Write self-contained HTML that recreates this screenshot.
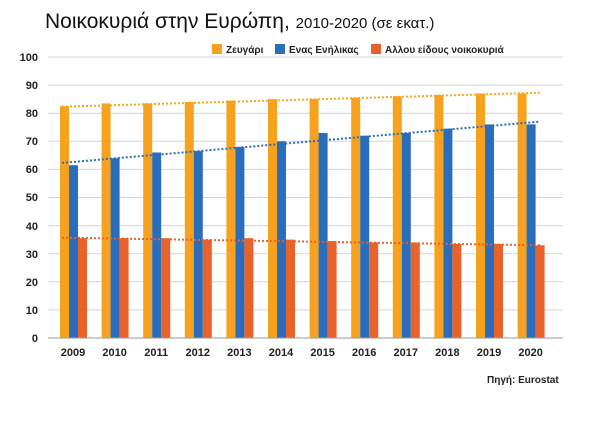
<!DOCTYPE html>
<html><head><meta charset="utf-8"><style>body{margin:0;background:#fff;}</style></head><body>
<svg width="600" height="416" xmlns="http://www.w3.org/2000/svg" font-family="Liberation Sans, sans-serif">
<text x="45" y="28" font-size="21" fill="#111">Νοικοκυριά στην Ευρώπη, <tspan font-size="15">2010-2020 (σε εκατ.)</tspan></text>
<rect x="212" y="44" width="10" height="10" fill="#f6a21e"/><text x="226" y="53" font-size="10" font-weight="bold" fill="#222">Ζευγάρι</text>
<rect x="275" y="44" width="10" height="10" fill="#2a6ebb"/><text x="289" y="53" font-size="10" font-weight="bold" fill="#222">Ενας Ενήλικας</text>
<rect x="371" y="44" width="10" height="10" fill="#e8622a"/><text x="385" y="53" font-size="10" font-weight="bold" fill="#222">Αλλου είδους νοικοκυριά</text>
<g stroke="#d4d4d4" stroke-width="1">
<line x1="48" x2="563" y1="57" y2="57"/><line x1="48" x2="563" y1="85.1" y2="85.1"/><line x1="48" x2="563" y1="113.2" y2="113.2"/><line x1="48" x2="563" y1="141.3" y2="141.3"/><line x1="48" x2="563" y1="169.4" y2="169.4"/><line x1="48" x2="563" y1="197.5" y2="197.5"/><line x1="48" x2="563" y1="225.6" y2="225.6"/><line x1="48" x2="563" y1="253.7" y2="253.7"/><line x1="48" x2="563" y1="281.8" y2="281.8"/><line x1="48" x2="563" y1="309.9" y2="309.9"/>
</g>
<g font-size="11" font-weight="bold" fill="#222" text-anchor="end">
<text x="38" y="61">100</text><text x="38" y="89">90</text><text x="38" y="117">80</text><text x="38" y="145">70</text><text x="38" y="173">60</text><text x="38" y="201">50</text><text x="38" y="230">40</text><text x="38" y="258">30</text><text x="38" y="286">20</text><text x="38" y="314">10</text><text x="38" y="342">0</text>
</g>
<g fill="#f6a21e">
<rect x="60" y="106.2" width="9" height="231.8"/><rect x="101.6" y="103.4" width="9" height="234.6"/><rect x="143.2" y="103.4" width="9" height="234.6"/><rect x="184.8" y="102" width="9" height="236"/><rect x="226.4" y="100.6" width="9" height="237.4"/><rect x="268" y="99.1" width="9" height="238.9"/><rect x="309.6" y="99.1" width="9" height="238.9"/><rect x="351.2" y="97.7" width="9" height="240.3"/><rect x="392.8" y="96.3" width="9" height="241.7"/><rect x="434.4" y="94.9" width="9" height="243.1"/><rect x="476" y="93.5" width="9" height="244.5"/><rect x="517.6" y="93.5" width="9" height="244.5"/>
</g>
<g fill="#2a6ebb">
<rect x="69" y="165.2" width="9" height="172.8"/><rect x="110.6" y="158.2" width="9" height="179.8"/><rect x="152.2" y="152.5" width="9" height="185.5"/><rect x="193.8" y="151.1" width="9" height="186.9"/><rect x="235.4" y="146.9" width="9" height="191.1"/><rect x="277" y="141.3" width="9" height="196.7"/><rect x="318.6" y="132.9" width="9" height="205.1"/><rect x="360.2" y="135.7" width="9" height="202.3"/><rect x="401.8" y="132.9" width="9" height="205.1"/><rect x="443.4" y="128.7" width="9" height="209.3"/><rect x="485" y="124.4" width="9" height="213.6"/><rect x="526.6" y="124.4" width="9" height="213.6"/>
</g>
<g fill="#e8622a">
<rect x="78" y="238.2" width="9" height="99.8"/><rect x="119.6" y="238.2" width="9" height="99.8"/><rect x="161.2" y="238.2" width="9" height="99.8"/><rect x="202.8" y="239.6" width="9" height="98.4"/><rect x="244.4" y="238.2" width="9" height="99.8"/><rect x="286" y="239.6" width="9" height="98.4"/><rect x="327.6" y="241.1" width="9" height="96.9"/><rect x="369.2" y="242.5" width="9" height="95.5"/><rect x="410.8" y="242.5" width="9" height="95.5"/><rect x="452.4" y="243.9" width="9" height="94.1"/><rect x="494" y="243.9" width="9" height="94.1"/><rect x="535.6" y="245.3" width="9" height="92.7"/>
</g>
<line x1="48" x2="563" y1="338" y2="338" stroke="#999"/>
<g stroke-width="2" stroke-dasharray="2,2">
<line x1="62" x2="540" y1="106.7" y2="92.7" stroke="#f6a21e"/>
<line x1="62" x2="540" y1="162.9" y2="121.6" stroke="#2a6ebb"/>
<line x1="62" x2="540" y1="237.7" y2="245.3" stroke="#e8622a"/>
</g>
<g font-size="11" font-weight="bold" fill="#222" text-anchor="middle">
<text x="73" y="356">2009</text><text x="114.6" y="356">2010</text><text x="156.2" y="356">2011</text><text x="197.8" y="356">2012</text><text x="239.4" y="356">2013</text><text x="281" y="356">2014</text><text x="322.6" y="356">2015</text><text x="364.2" y="356">2016</text><text x="405.8" y="356">2017</text><text x="447.4" y="356">2018</text><text x="489" y="356">2019</text><text x="530.6" y="356">2020</text>
</g>
<text x="487" y="383" font-size="10" font-weight="bold" fill="#222">Πηγή: Eurostat</text>
</svg>
</body></html>
